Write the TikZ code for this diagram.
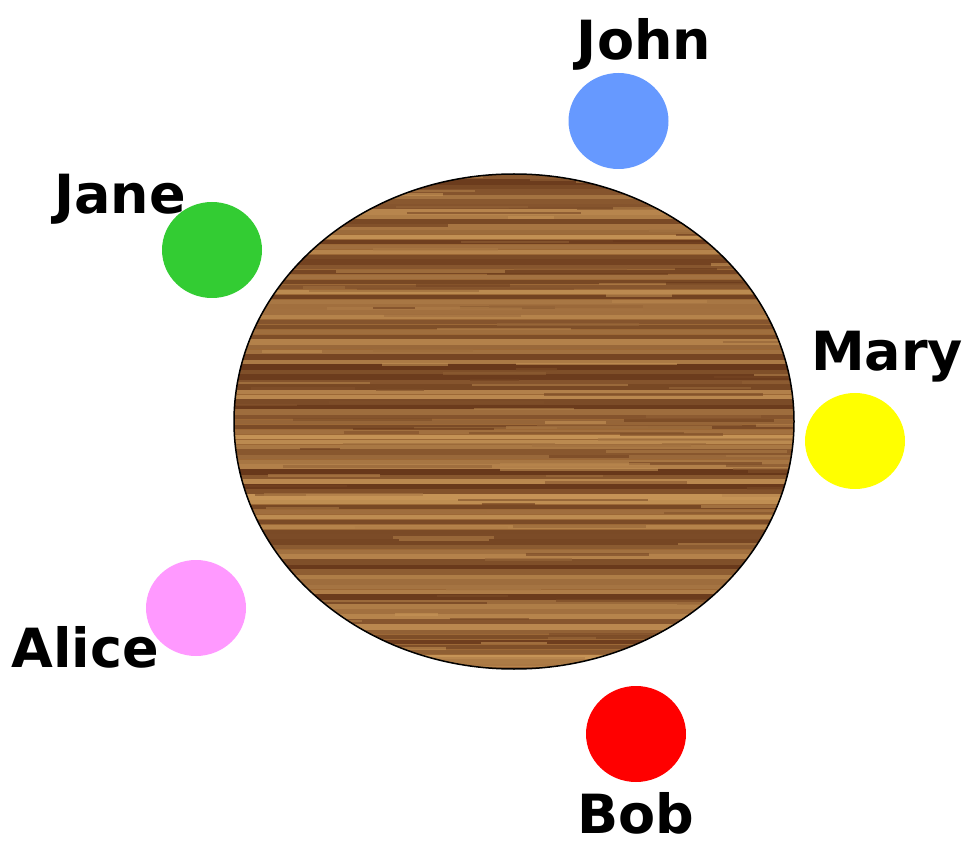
\documentclass[tikz,border=0pt]{standalone}
\usepackage{fontspec}
\setmainfont{DejaVu Sans}
\usepackage{xcolor}
\usepackage{tikz}
\usetikzlibrary{positioning,shapes.geometric}

\definecolor{johnblue}{RGB}{102,153,255}
\definecolor{janegreen}{RGB}{51,204,51}
\definecolor{maryyellow}{RGB}{255,255,0}
\definecolor{alicepink}{RGB}{255,153,255}
\definecolor{bobred}{RGB}{255,0,0}
\definecolor{woodmid}{RGB}{156,104,54}
\definecolor{wooddark}{RGB}{104,56,26}
\definecolor{woodlight}{RGB}{200,150,88}

\begin{document}
\begin{tikzpicture}[
      x=1pt, y=-1pt,
      seat/.style={
        ellipse, draw=none, minimum width=100pt, minimum height=96pt,
        inner sep=0pt,
      },
      guest/.style={
        font=\fontsize{54}{60}\selectfont\bfseries,
        inner sep=0pt, anchor=base,
      },
      tabletop/.style={
        ellipse, fill=woodmid, minimum width=560pt, minimum height=495pt,
        inner sep=0pt,
      },
    ]
    \useasboundingbox (0,0) rectangle (970,842);
    \pgfmathsetseed{11}

    % the table
    \node[tabletop] (table) at (514,421.5) {};

    % wood grain, clipped to the table top
    \begin{scope}
      \path[clip] (table.center) ellipse [x radius=280pt, y radius=247.5pt];
      \foreach \y in {172,177,...,672}{
        \pgfmathtruncatemacro\p{rnd*100}
        \pgfmathsetmacro\w{3+rnd*3.5}
        \draw[woodlight!\p!wooddark, line width=\w pt] (230,\y) -- (800,\y);
      }
      \foreach \i in {1,...,140}{
        \pgfmathsetmacro\sx{230+rnd*560}
        \pgfmathsetmacro\sy{172+rnd*500}
        \pgfmathsetmacro\sl{40+rnd*180}
        \pgfmathtruncatemacro\p{rnd*100}
        \draw[woodlight!\p!wooddark, line width=2.5pt, opacity=0.6]
          (\sx,\sy) -- ++(\sl,0);
      }
    \end{scope}
    \draw[line width=1.5pt] (table.center) ellipse [x radius=280pt, y radius=247.5pt];

    % guests round the table
    \node[seat, fill=johnblue]   (john)  at (618.5,121) {};
    \node[seat, fill=janegreen]  (jane)  at (212,250)   {};
    \node[seat, fill=maryyellow] (mary)  at (855,441)   {};
    \node[seat, fill=alicepink]  (alice) at (196,608)   {};
    \node[seat, fill=bobred]     (bob)   at (636,734)   {};

    % names
    \node[guest] (johnname)  at (644,60)  {John};
    \node[guest] (janename)  at (120,214) {Jane};
    \node[guest] (maryname)  at (887,371) {Mary};
    \node[guest] (alicename) at (85,667)  {Alice};
    \node[guest] (bobname)   at (636,833) {Bob};

  \end{tikzpicture}
\end{document}
